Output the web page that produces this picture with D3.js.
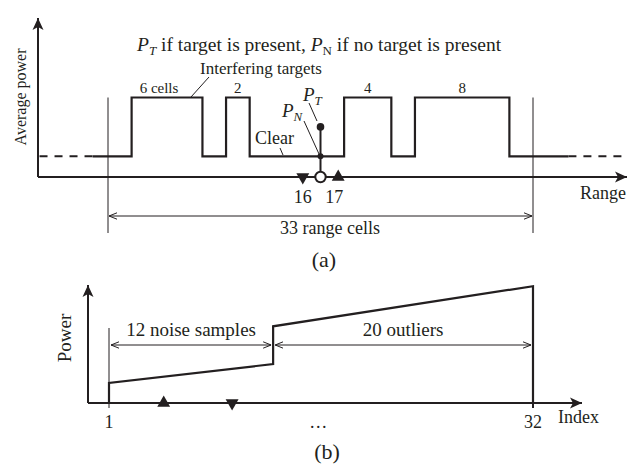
<!DOCTYPE html>
<html>
<head>
<meta charset="utf-8">
<script src="https://cdn.jsdelivr.net/npm/d3@7.9.0/dist/d3.min.js"></script>
<style>
  body { margin: 0; background: #fff; }
  svg { display: block; font-family: "Liberation Serif", "DejaVu Serif", serif; }
  text { fill: #231f20; }
</style>
</head>
<body>
<svg id="chart" width="628" height="471"></svg>
<script>
// panel (a): range profile around the cell under test
const noiseLevel = 1.3;
const interfLevel = 5;
const targetLevel = 3.15;
const interferers = [
  { start: 2, width: 6, label: '6 cells' },
  { start: 10, width: 2, label: '2' },
  { start: 20, width: 4, label: '4' },
  { start: 26, width: 8, label: '8' }
];
const solidSpan = [-1.3, 39];
const dashLeft = [-5.8, -1.3];
const dashRight = [39, 43.6];
const testCell = 18;
const refCells = [
  { cell: 16.5, label: '16', dir: 'down' },
  { cell: 19.5, label: '17', dir: 'up' }
];
const windowCells = [0, 36];

// panel (b): ordered samples
const noiseIdx = [1, 13];
const noisePow = [1.7, 3.3];
const outlierIdx = [13, 32];
const outlierPow = [6.5, 9.9];
const indexTicks = [{ i: 1, label: '1' }, { i: 16.3, label: '…' }, { i: 32, label: '32' }];
const sortMarks = [{ i: 5, dir: 'up' }, { i: 10, dir: 'down' }];

const ink = '#231f20';
const svg = d3.select('#chart');

const defs = svg.append('defs');
defs.append('marker')
  .attr('id', 'axisArrow')
  .attr('viewBox', '0 0 12 12')
  .attr('refX', 12).attr('refY', 6)
  .attr('markerWidth', 12).attr('markerHeight', 12)
  .attr('markerUnits', 'userSpaceOnUse')
  .attr('orient', 'auto')
  .append('path')
    .attr('d', 'M0,0.5 L12,6 L0,11.5 L3,6 Z')
    .attr('fill', ink);
defs.append('marker')
  .attr('id', 'openArrow')
  .attr('viewBox', '0 0 8 8')
  .attr('refX', 8).attr('refY', 4)
  .attr('markerWidth', 8).attr('markerHeight', 8)
  .attr('markerUnits', 'userSpaceOnUse')
  .attr('orient', 'auto-start-reverse')
  .append('path')
    .attr('d', 'M0,0.8 L8,4 L0,7.2')
    .attr('fill', 'none')
    .attr('stroke', ink)
    .attr('stroke-width', 1);

const tri = d3.symbol().type(d3.symbolTriangle).size(72);

// ---------- panel (a) ----------
const xA = d3.scaleLinear().domain(windowCells).range([108, 533]);
const yA = d3.scaleLinear().domain([0, 10]).range([177, 18]);
const gA = svg.append('g');

// axes
gA.append('line')
  .attr('x1', 38).attr('y1', yA(0)).attr('x2', 38).attr('y2', yA(10))
  .attr('stroke', ink).attr('stroke-width', 2).attr('marker-end', 'url(#axisArrow)');
gA.append('line')
  .attr('x1', 38).attr('y1', yA(0)).attr('x2', 627).attr('y2', yA(0))
  .attr('stroke', ink).attr('stroke-width', 2).attr('marker-end', 'url(#axisArrow)');

// window extension lines
windowCells.forEach(c => {
  gA.append('line')
    .attr('x1', xA(c)).attr('x2', xA(c))
    .attr('y1', yA(interfLevel)).attr('y2', 233)
    .attr('stroke', ink).attr('stroke-width', 1);
});

// power profile
let pts = [[solidSpan[0], noiseLevel]];
interferers.forEach(d => {
  pts.push([d.start, noiseLevel], [d.start, interfLevel],
           [d.start + d.width, interfLevel], [d.start + d.width, noiseLevel]);
});
pts.push([solidSpan[1], noiseLevel]);
const lineA = d3.line().x(d => xA(d[0])).y(d => yA(d[1]));
gA.append('path')
  .attr('d', lineA(pts))
  .attr('fill', 'none').attr('stroke', ink).attr('stroke-width', 2.2)
  .attr('stroke-linejoin', 'miter');
[dashLeft, dashRight].forEach(s => {
  gA.append('path')
    .attr('d', lineA(s.map(c => [c, noiseLevel])))
    .attr('fill', 'none').attr('stroke', ink).attr('stroke-width', 2)
    .attr('stroke-dasharray', '8,7');
});

// interferer labels
gA.selectAll('text.cnt')
  .data(interferers)
  .join('text')
    .attr('class', 'cnt')
    .attr('x', (d, i) => xA(d.start + d.width / 2) - (i === 0 ? 8 : 0))
    .attr('y', yA(interfLevel) - 5)
    .attr('text-anchor', 'middle')
    .attr('font-size', 15)
    .text(d => d.label);

// target stem
gA.append('line')
  .attr('x1', xA(testCell)).attr('x2', xA(testCell))
  .attr('y1', yA(0)).attr('y2', yA(targetLevel))
  .attr('stroke', ink).attr('stroke-width', 2);
gA.append('circle')
  .attr('cx', xA(testCell)).attr('cy', yA(targetLevel)).attr('r', 3.8).attr('fill', ink);
gA.append('circle')
  .attr('cx', xA(testCell)).attr('cy', yA(noiseLevel)).attr('r', 3).attr('fill', ink);
gA.append('circle')
  .attr('cx', xA(testCell)).attr('cy', yA(0)).attr('r', 5.2)
  .attr('fill', '#fff').attr('stroke', ink).attr('stroke-width', 2);

// reference cell markers
gA.selectAll('path.ref')
  .data(refCells)
  .join('path')
    .attr('class', 'ref')
    .attr('d', tri)
    .attr('fill', ink)
    .attr('transform', d => `translate(${xA(d.cell)},${yA(0)}) rotate(${d.dir === 'down' ? 180 : 0})`);
gA.selectAll('text.ref')
  .data(refCells)
  .join('text')
    .attr('class', 'ref')
    .attr('x', d => xA(d.cell) + (d.dir === 'up' ? -4 : 0))
    .attr('y', 203)
    .attr('text-anchor', 'middle')
    .attr('font-size', 18)
    .text(d => d.label);

// leader lines
const leaders = [
  [[209, 77], [191, 97]],
  [[304, 121], [319, 154]],
  [[309, 103], [317, 121]],
  [[280, 148], [283, 155]]
];
leaders.forEach(l => {
  gA.append('line')
    .attr('x1', l[0][0]).attr('y1', l[0][1]).attr('x2', l[1][0]).attr('y2', l[1][1])
    .attr('stroke', ink).attr('stroke-width', 1);
});

// texts (a)
gA.append('text')
  .attr('transform', 'translate(26,97) rotate(-90)')
  .attr('text-anchor', 'middle')
  .attr('font-size', 16)
  .text('Average power');

const title = gA.append('text').attr('x', 137).attr('y', 51).attr('font-size', 19.5);
title.append('tspan').attr('font-style', 'italic').text('P');
title.append('tspan').attr('font-style', 'italic').attr('font-size', 13).attr('dy', 4).text('T');
title.append('tspan').attr('dy', -4).text(' if target is present, ');
title.append('tspan').attr('font-style', 'italic').text('P');
title.append('tspan').attr('font-size', 13).attr('dy', 4).text('N');
title.append('tspan').attr('dy', -4).text(' if no target is present');

gA.append('text').attr('x', 200).attr('y', 74).attr('font-size', 17).text('Interfering targets');
gA.append('text').attr('x', 255).attr('y', 144).attr('font-size', 18).text('Clear');

const pT = gA.append('text').attr('x', 303).attr('y', 101).attr('font-size', 19).attr('font-style', 'italic');
pT.append('tspan').text('P');
pT.append('tspan').attr('font-size', 13).attr('dy', 4).text('T');
const pN = gA.append('text').attr('x', 282).attr('y', 117).attr('font-size', 19).attr('font-style', 'italic');
pN.append('tspan').text('P');
pN.append('tspan').attr('font-size', 13).attr('dy', 4).text('N');

gA.append('text').attr('x', 580).attr('y', 199).attr('font-size', 18).text('Range');

// window bracket
gA.append('line')
  .attr('x1', xA(windowCells[0]) + 1).attr('x2', xA(windowCells[1]) - 1)
  .attr('y1', 216).attr('y2', 216)
  .attr('stroke', ink).attr('stroke-width', 1)
  .attr('marker-start', 'url(#openArrow)').attr('marker-end', 'url(#openArrow)');
gA.append('text')
  .attr('x', 330).attr('y', 234)
  .attr('text-anchor', 'middle').attr('font-size', 18)
  .text('33 range cells');
gA.append('text')
  .attr('x', 324).attr('y', 267)
  .attr('text-anchor', 'middle').attr('font-size', 22)
  .text('(a)');

// ---------- panel (b) ----------
const xB = d3.scaleLinear().domain([1, 32]).range([109, 533]);
const yB = d3.scaleLinear().domain([0, 10]).range([403, 285]);
const gB = svg.append('g');

gB.append('line')
  .attr('x1', 88).attr('y1', yB(0)).attr('x2', 88).attr('y2', yB(10))
  .attr('stroke', ink).attr('stroke-width', 2).attr('marker-end', 'url(#axisArrow)');
gB.append('line')
  .attr('x1', 88).attr('y1', yB(0)).attr('x2', 582).attr('y2', yB(0))
  .attr('stroke', ink).attr('stroke-width', 2).attr('marker-end', 'url(#axisArrow)');

// extension line at first sample
gB.append('line')
  .attr('x1', xB(noiseIdx[0])).attr('x2', xB(noiseIdx[0]))
  .attr('y1', 328).attr('y2', 408)
  .attr('stroke', ink).attr('stroke-width', 1);

const ptsB = [
  [noiseIdx[0], 0], [noiseIdx[0], noisePow[0]], [noiseIdx[1], noisePow[1]],
  [outlierIdx[0], outlierPow[0]], [outlierIdx[1], outlierPow[1]], [outlierIdx[1], 0]
];
const lineB = d3.line().x(d => xB(d[0])).y(d => yB(d[1]));
gB.append('path')
  .attr('d', lineB(ptsB))
  .attr('fill', 'none').attr('stroke', ink).attr('stroke-width', 2.2);
gB.append('line')
  .attr('x1', xB(outlierIdx[1])).attr('x2', xB(outlierIdx[1]))
  .attr('y1', yB(0)).attr('y2', 408)
  .attr('stroke', ink).attr('stroke-width', 2);

// brackets
const bracketsB = [
  { span: noiseIdx, label: '12 noise samples' },
  { span: outlierIdx, label: '20 outliers' }
];
bracketsB.forEach(b => {
  gB.append('line')
    .attr('x1', xB(b.span[0]) + 2).attr('x2', xB(b.span[1]) - 2)
    .attr('y1', 345).attr('y2', 345)
    .attr('stroke', ink).attr('stroke-width', 1)
    .attr('marker-start', 'url(#openArrow)').attr('marker-end', 'url(#openArrow)');
  gB.append('text')
    .attr('x', (xB(b.span[0]) + xB(b.span[1])) / 2)
    .attr('y', 336)
    .attr('text-anchor', 'middle').attr('font-size', 19)
    .text(b.label);
});

gB.selectAll('path.mk')
  .data(sortMarks)
  .join('path')
    .attr('class', 'mk')
    .attr('d', tri)
    .attr('fill', ink)
    .attr('transform', d => `translate(${xB(d.i)},${yB(0)}) rotate(${d.dir === 'down' ? 180 : 0})`);

gB.selectAll('text.tick')
  .data(indexTicks)
  .join('text')
    .attr('class', 'tick')
    .attr('x', d => xB(d.i))
    .attr('y', 428)
    .attr('text-anchor', 'middle').attr('font-size', 18)
    .text(d => d.label);

gB.append('text').attr('x', 558).attr('y', 423).attr('font-size', 18).text('Index');
gB.append('text')
  .attr('transform', 'translate(71,338) rotate(-90)')
  .attr('text-anchor', 'middle').attr('font-size', 19)
  .text('Power');
gB.append('text')
  .attr('x', 327).attr('y', 459)
  .attr('text-anchor', 'middle').attr('font-size', 22)
  .text('(b)');
</script>
</body>
</html>
